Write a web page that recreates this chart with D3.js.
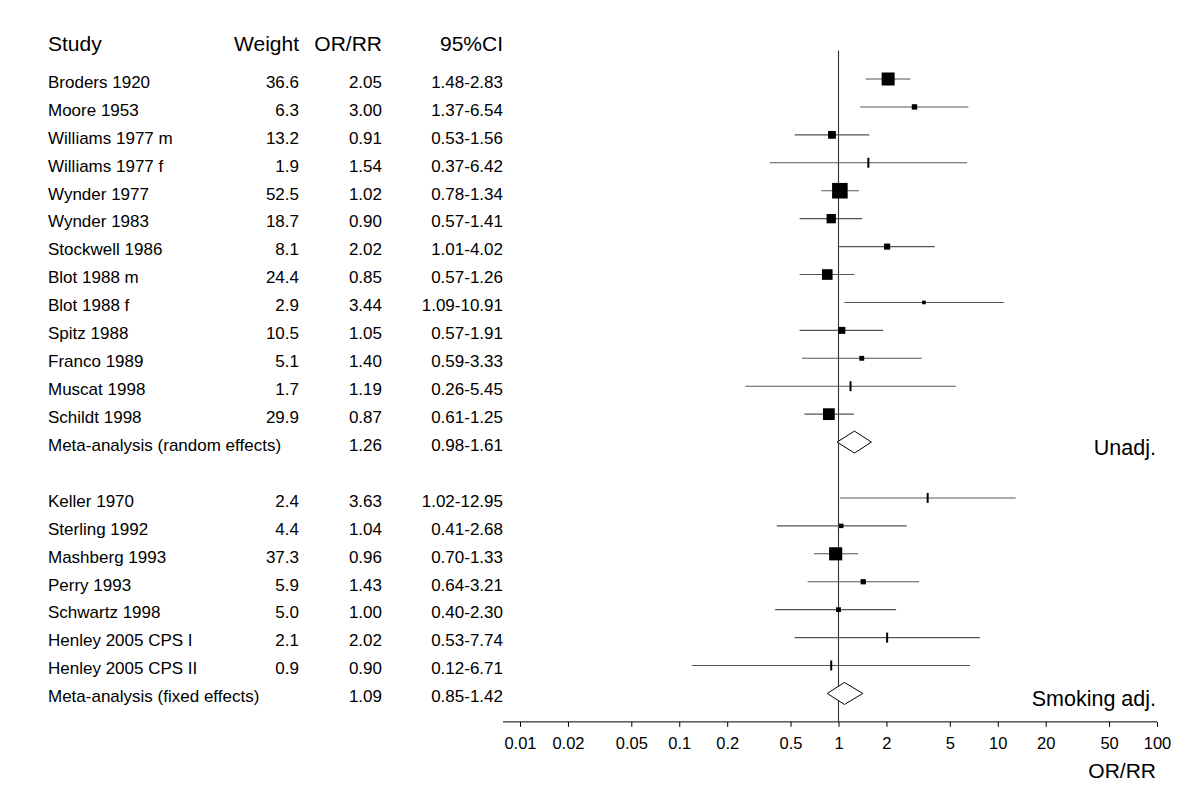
<!DOCTYPE html>
<html>
<head>
<meta charset="utf-8">
<script src="https://cdn.jsdelivr.net/npm/d3@7"></script>
<style>
  html, body { margin: 0; padding: 0; background: #fff; }
  svg { display: block; }
  text { font-family: "Liberation Sans", Arial, sans-serif; fill: #000; }
</style>
</head>
<body>
<svg id="chart" width="1200" height="800"></svg>
<script>
// ---------- data ----------
const studiesUnadj = ["Broders 1920","Moore 1953","Williams 1977 m","Williams 1977 f","Wynder 1977","Wynder 1983","Stockwell 1986","Blot 1988 m","Blot 1988 f","Spitz 1988","Franco 1989","Muscat 1998","Schildt 1998"];
const weightsUnadj = [36.6, 6.3, 13.2, 1.9, 52.5, 18.7, 8.1, 24.4, 2.9, 10.5, 5.1, 1.7, 29.9];
const orUnadj      = [2.05, 3.00, 0.91, 1.54, 1.02, 0.90, 2.02, 0.85, 3.44, 1.05, 1.40, 1.19, 0.87];
const lowUnadj     = [1.48, 1.37, 0.53, 0.37, 0.78, 0.57, 1.01, 0.57, 1.09, 0.57, 0.59, 0.26, 0.61];
const highUnadj    = [2.83, 6.54, 1.56, 6.42, 1.34, 1.41, 4.02, 1.26, 10.91, 1.91, 3.33, 5.45, 1.25];

const studiesAdj = ["Keller 1970","Sterling 1992","Mashberg 1993","Perry 1993","Schwartz 1998","Henley 2005 CPS I","Henley 2005 CPS II"];
const weightsAdj = [2.4, 4.4, 37.3, 5.9, 5.0, 2.1, 0.9];
const orAdj      = [3.63, 1.04, 0.96, 1.43, 1.00, 2.02, 0.90];
const lowAdj     = [1.02, 0.41, 0.70, 0.64, 0.40, 0.53, 0.12];
const highAdj    = [12.95, 2.68, 1.33, 3.21, 2.30, 7.74, 6.71];

const metaLabels = ["Meta-analysis (random effects)", "Meta-analysis (fixed effects)"];
const metaOR     = [1.26, 1.09];
const metaLow    = [0.98, 0.85];
const metaHigh   = [1.61, 1.42];

const groupLabels = ["Unadj.", "Smoking adj."];
const headers = ["Study", "Weight", "OR/RR", "95%CI"];
const tickValues = [0.01, 0.02, 0.05, 0.1, 0.2, 0.5, 1, 2, 5, 10, 20, 50, 100];
const axisTitle = "OR/RR";

// ---------- build rows ----------
const rows = [];
let idx = 0;
studiesUnadj.forEach((s, i) => rows.push({row: idx++, label: s, w: weightsUnadj[i], or: orUnadj[i], lo: lowUnadj[i], hi: highUnadj[i], meta: false}));
rows.push({row: idx++, label: metaLabels[0], w: null, or: metaOR[0], lo: metaLow[0], hi: metaHigh[0], meta: true, group: 0});
idx++; // blank row
studiesAdj.forEach((s, i) => rows.push({row: idx++, label: s, w: weightsAdj[i], or: orAdj[i], lo: lowAdj[i], hi: highAdj[i], meta: false}));
rows.push({row: idx++, label: metaLabels[1], w: null, or: metaOR[1], lo: metaLow[1], hi: metaHigh[1], meta: true, group: 1});
const nRows = idx;

// ---------- scales ----------
const svg = d3.select("#chart");
const x = d3.scaleLog().domain([0.01, 100]).range([520, 1157]);
const rowH = 27.93;
const y = d3.scaleLinear().domain([0, 1]).range([79, 79 + rowH]);
const axisY = y(nRows);
const size = d3.scaleSqrt().domain([0, 1]).range([0, 2.15]);

const f2 = d3.format(".2f"), f1 = d3.format(".1f");
const colStudy = 48, colWeight = 299, colOR = 382, colCI = 503;

// ---------- headers ----------
const hdr = svg.append("g").attr("font-size", 21);
hdr.append("text").attr("x", colStudy).attr("y", 51).text(headers[0]);
hdr.append("text").attr("x", colWeight).attr("y", 51).attr("text-anchor", "end").text(headers[1]);
hdr.append("text").attr("x", colOR).attr("y", 51).attr("text-anchor", "end").text(headers[2]);
hdr.append("text").attr("x", colCI).attr("y", 51).attr("text-anchor", "end").text(headers[3]);

// ---------- table text ----------
const tbl = svg.append("g").attr("font-size", 17);
rows.forEach(d => {
  const by = y(d.row) + 8.8;
  tbl.append("text").attr("x", colStudy).attr("y", by).text(d.label);
  if (d.w !== null) tbl.append("text").attr("x", colWeight).attr("y", by).attr("text-anchor", "end").text(f1(d.w));
  tbl.append("text").attr("x", colOR).attr("y", by).attr("text-anchor", "end").text(f2(d.or));
  tbl.append("text").attr("x", colCI).attr("y", by).attr("text-anchor", "end").text(f2(d.lo) + "-" + f2(d.hi));
});

// ---------- reference line ----------
svg.append("line")
  .attr("x1", x(1)).attr("x2", x(1))
  .attr("y1", y(-1) - 0.5).attr("y2", axisY)
  .attr("stroke", "#333").attr("stroke-width", 1.1);

// ---------- CI lines & markers ----------
const plot = svg.append("g");
rows.filter(d => !d.meta).forEach(d => {
  const cy = y(d.row);
  plot.append("line")
    .attr("x1", x(d.lo)).attr("x2", x(d.hi))
    .attr("y1", cy).attr("y2", cy)
    .attr("stroke", "#555").attr("stroke-width", 1.1);
  const s = size(d.w);
  if (s >= 3.5) {
    plot.append("rect")
      .attr("x", x(d.or) - s / 2).attr("y", cy - s / 2)
      .attr("width", s).attr("height", s)
      .attr("fill", "#000");
  } else {
    plot.append("line")
      .attr("x1", x(d.or)).attr("x2", x(d.or))
      .attr("y1", cy - 5).attr("y2", cy + 5)
      .attr("stroke", "#000").attr("stroke-width", 2);
  }
});

// diamonds
rows.filter(d => d.meta).forEach(d => {
  const cy = y(d.row), h = 11;
  const pts = [[x(d.lo), cy], [x(d.or), cy - h], [x(d.hi), cy], [x(d.or), cy + h]];
  plot.append("polygon")
    .attr("points", pts.map(p => p.join(",")).join(" "))
    .attr("fill", "#fff").attr("stroke", "#000").attr("stroke-width", 1);
  svg.append("text")
    .attr("x", 1156).attr("y", cy + 13)
    .attr("text-anchor", "end").attr("font-size", 21.5)
    .text(groupLabels[d.group]);
});

// ---------- axis ----------
const axis = d3.axisBottom(x)
  .tickValues(tickValues)
  .tickFormat(d => String(d))
  .tickSize(5)
  .tickSizeOuter(0)
  .tickPadding(11);
const gAxis = svg.append("g").attr("transform", `translate(0,${axisY})`).call(axis);
gAxis.select(".domain").remove();
gAxis.append("line")
  .attr("x1", x.range()[0] - 17).attr("x2", x.range()[1])
  .attr("y1", 0.5).attr("y2", 0.5)
  .attr("stroke", "#000").attr("stroke-width", 1);
gAxis.selectAll(".tick line").attr("stroke", "#000").attr("y1", 0.5).attr("y2", 5.5);
gAxis.selectAll(".tick text")
  .attr("font-size", 16.5)
  .attr("font-family", '"Liberation Sans", Arial, sans-serif')
  .attr("fill", "#000");

svg.append("text")
  .attr("x", 1156).attr("y", 778)
  .attr("text-anchor", "end").attr("font-size", 21)
  .text(axisTitle);
</script>
</body>
</html>
